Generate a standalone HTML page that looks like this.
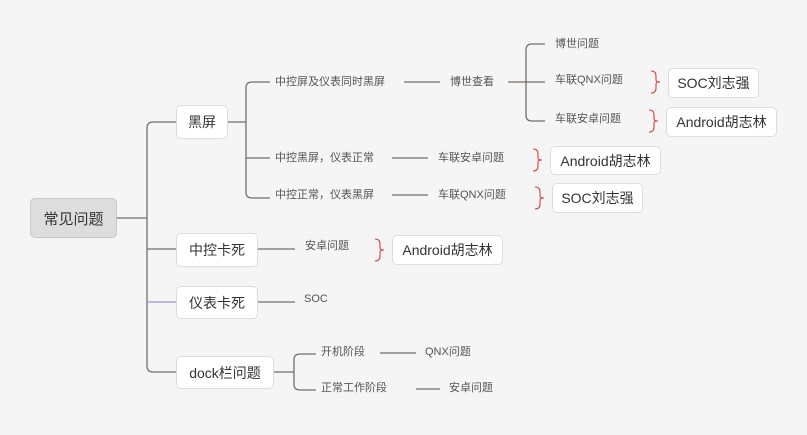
<!DOCTYPE html>
<html><head><meta charset="utf-8"><style>
body{margin:0;width:807px;height:435px;background:#f5f5f5;position:relative;overflow:hidden;font-family:"Liberation Sans","Noto Sans CJK SC",sans-serif;}
.b{position:absolute;background:#fff;border:1px solid #ddd;border-radius:5px;box-sizing:border-box;display:flex;align-items:center;justify-content:center;color:#333;font-size:14px;}
.t{position:absolute;font-size:11px;color:#555;line-height:14px;white-space:nowrap;}
svg{position:absolute;left:0;top:0;}
</style></head><body>
<svg width="807" height="435" fill="none" stroke="#776e68" stroke-width="1.3">
<path d="M116 218H147"/>
<path d="M176 122H153Q147 122 147 128V366Q147 372 153 372H176"/>
<path d="M147 249H176"/>
<path d="M147 302H176" stroke="#9a98cc"/>
<path d="M228 122H246"/>
<path d="M270 82H252Q246 82 246 88V192Q246 198 252 198H270"/>
<path d="M246 158Q246 158 252 158H270"/>
<path d="M404 82H440M508 82H545"/>
<path d="M545 44H532Q526 44 526 50V115Q526 121 532 121H545"/>
<path d="M392 158H428M392 195H428"/>
<path d="M258 249H295M258 302H295"/>
<path d="M274 372H294"/>
<path d="M316 354H300Q294 354 294 360V384Q294 390 300 390H316"/>
<path d="M380 353H416M416 389H440"/>
<g stroke="#d04040" stroke-width="1.1">
<path d="M651 71Q656 71 656 76V80Q656 82 660 82Q656 82 656 84V88Q656 93 651 93"/>
<path d="M649 110Q654 110 654 115V119Q654 121 658 121Q654 121 654 123V127Q654 132 649 132"/>
<path d="M533 149Q538 149 538 154V158Q538 160 542 160Q538 160 538 162V166Q538 171 533 171"/>
<path d="M535 187Q540 187 540 192V196Q540 198 544 198Q540 198 540 200V204Q540 209 535 209"/>
<path d="M375 239Q380 239 380 244V248Q380 250 384 250Q380 250 380 252V256Q380 261 375 261"/>
</g>
</svg>
<div class="b" style="left:30px;top:198px;width:87px;height:40px;background:#ddd;border-color:#c8c8c8;font-size:15px;">常见问题</div>
<div class="b" style="left:176px;top:105px;width:52px;height:34px;">黑屏</div>
<div class="b" style="left:176px;top:233px;width:82px;height:34px;">中控卡死</div>
<div class="b" style="left:176px;top:286px;width:82px;height:33px;">仪表卡死</div>
<div class="b" style="left:176px;top:356px;width:98px;height:33px;">dock栏问题</div>
<div class="t" style="left:275px;top:75px">中控屏及仪表同时黑屏</div>
<div class="t" style="left:450px;top:75px">博世查看</div>
<div class="t" style="left:555px;top:37px">博世问题</div>
<div class="t" style="left:555px;top:73px">车联QNX问题</div>
<div class="t" style="left:555px;top:112px">车联安卓问题</div>
<div class="t" style="left:275px;top:151px">中控黑屏，仪表正常</div>
<div class="t" style="left:438px;top:151px">车联安卓问题</div>
<div class="t" style="left:275px;top:188px">中控正常，仪表黑屏</div>
<div class="t" style="left:438px;top:188px">车联QNX问题</div>
<div class="t" style="left:305px;top:239px">安卓问题</div>
<div class="t" style="left:304px;top:292px">SOC</div>
<div class="t" style="left:321px;top:345px">开机阶段</div>
<div class="t" style="left:425px;top:345px">QNX问题</div>
<div class="t" style="left:321px;top:381px">正常工作阶段</div>
<div class="t" style="left:449px;top:381px">安卓问题</div>
<div class="b" style="left:668px;top:68px;width:91px;height:30px;">SOC刘志强</div>
<div class="b" style="left:666px;top:107px;width:111px;height:30px;">Android胡志林</div>
<div class="b" style="left:550px;top:146px;width:111px;height:29px;">Android胡志林</div>
<div class="b" style="left:552px;top:183px;width:91px;height:30px;">SOC刘志强</div>
<div class="b" style="left:392px;top:235px;width:111px;height:30px;">Android胡志林</div>
</body></html>
